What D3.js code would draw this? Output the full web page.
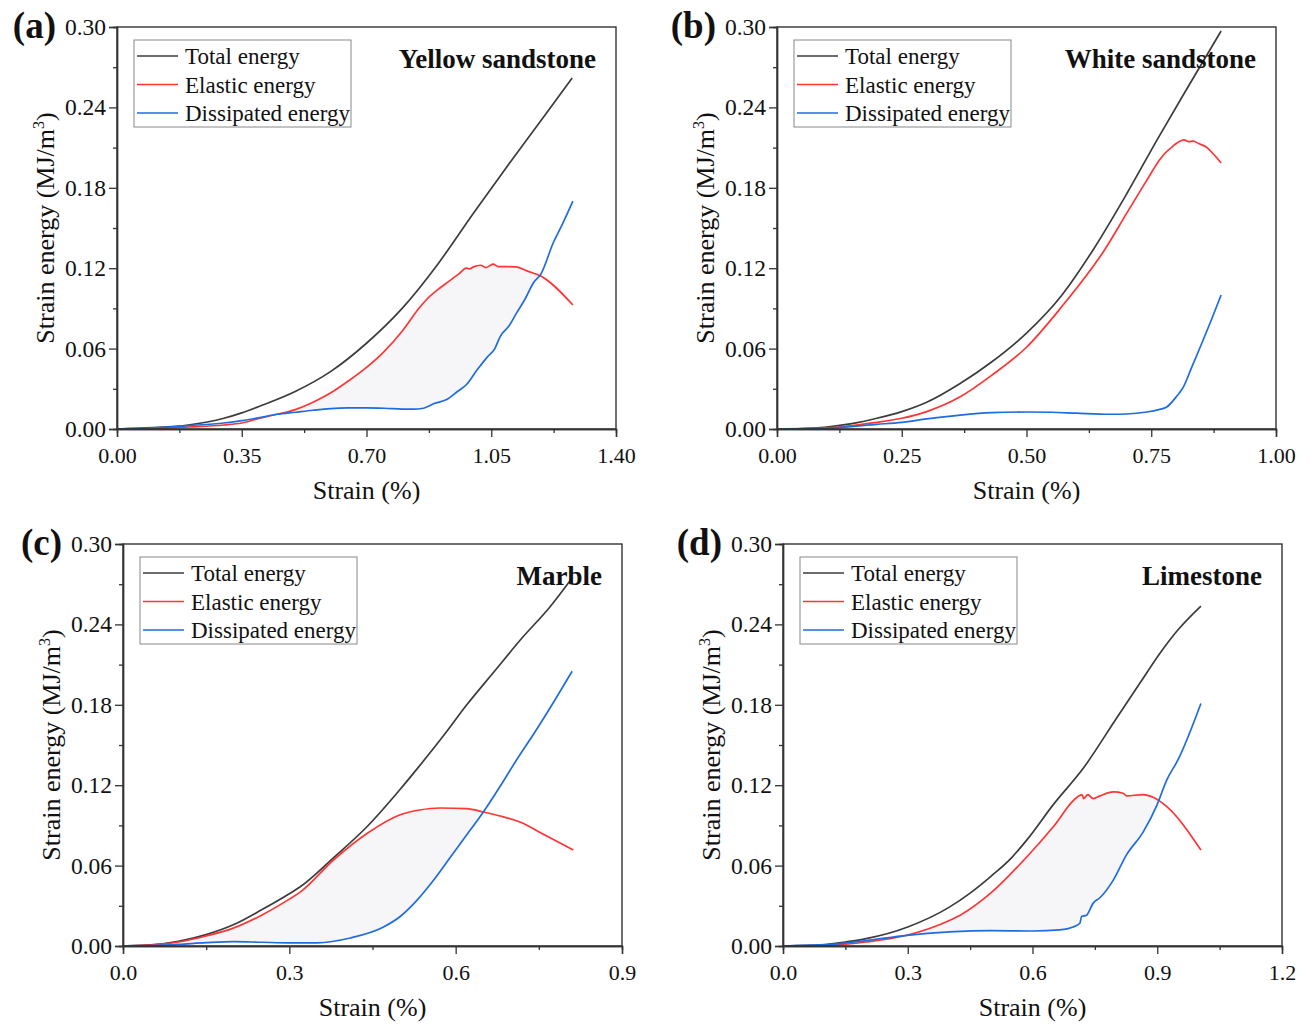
<!DOCTYPE html>
<html>
<head>
<meta charset="utf-8">
<script src="https://cdn.jsdelivr.net/npm/d3@7"></script>
<style>
  body { margin: 0; background: #fff; }
  svg { display: block; }
  text { font-family: "Liberation Serif", "Times New Roman", serif; fill: #111; }
</style>
</head>
<body>
<svg id="fig" width="1314" height="1025"></svg>
<script>
// Strain energy evolution under uniaxial compression: [strain (%), energy (MJ/m^3)]

// (a) Yellow sandstone
const yellowTotal = [[0,0],[0.1,0.001],[0.2,0.003],[0.3,0.008],[0.35,0.012],[0.4,0.017],[0.5,0.028],[0.6,0.043],[0.7,0.064],[0.8,0.09],[0.9,0.123],[1.0,0.161],[1.1,0.198],[1.2,0.234],[1.277,0.262]];
const yellowElastic = [[0,0],[0.1,0.0003],[0.2,0.0015],[0.3,0.003],[0.35,0.0045],[0.4,0.008],[0.45,0.011],[0.5,0.0145],[0.55,0.02],[0.6,0.027],[0.65,0.036],[0.7,0.046],[0.75,0.058],[0.8,0.073],[0.85,0.091],[0.87,0.097],[0.9,0.104],[0.93,0.110],[0.96,0.116],[0.98,0.120],[0.99,0.1195],[1.0,0.121],[1.02,0.1222],[1.035,0.1205],[1.055,0.123],[1.07,0.1212],[1.1,0.1212],[1.12,0.121],[1.15,0.118],[1.19,0.114],[1.279,0.0925]];
const yellowDissipated = [[0,0],[0.1,0.0008],[0.2,0.0025],[0.3,0.0045],[0.35,0.0062],[0.4,0.0085],[0.45,0.011],[0.5,0.0125],[0.55,0.014],[0.6,0.0152],[0.65,0.0157],[0.7,0.0158],[0.75,0.0155],[0.8,0.0149],[0.83,0.0148],[0.86,0.0155],[0.89,0.019],[0.925,0.022],[0.955,0.028],[0.98,0.033],[1.01,0.044],[1.04,0.054],[1.06,0.060],[1.075,0.069],[1.1,0.077],[1.122,0.087],[1.145,0.097],[1.168,0.109],[1.19,0.116],[1.224,0.139],[1.25,0.153],[1.279,0.170]];

// (b) White sandstone
const whiteTotal = [[0,0],[0.05,0.0003],[0.1,0.0015],[0.15,0.004],[0.2,0.008],[0.25,0.013],[0.3,0.02],[0.367,0.034],[0.43,0.05],[0.5,0.0716],[0.57,0.0995],[0.634,0.134],[0.7,0.175],[0.762,0.216],[0.82,0.253],[0.89,0.297]];
const whiteElastic = [[0,0],[0.1,0.0008],[0.2,0.005],[0.25,0.008],[0.3,0.013],[0.367,0.024],[0.43,0.04],[0.5,0.061],[0.57,0.091],[0.657,0.134],[0.7,0.1605],[0.74,0.185],[0.768,0.2015],[0.778,0.206],[0.79,0.210],[0.8,0.213],[0.816,0.2157],[0.825,0.2145],[0.834,0.2148],[0.845,0.213],[0.862,0.210],[0.875,0.205],[0.89,0.1985]];
const whiteDissipated = [[0,0],[0.1,0.0007],[0.2,0.0035],[0.25,0.005],[0.3,0.0075],[0.367,0.0104],[0.43,0.0122],[0.5,0.0127],[0.55,0.0125],[0.6,0.0118],[0.667,0.011],[0.7,0.0112],[0.741,0.0127],[0.765,0.0145],[0.781,0.0164],[0.8,0.024],[0.814,0.031],[0.83,0.045],[0.848,0.061],[0.87,0.081],[0.89,0.100]];

// (c) Marble
const marbleTotal = [[0,0],[0.05,0.0008],[0.1,0.0035],[0.15,0.0085],[0.2,0.016],[0.25,0.027],[0.3,0.039],[0.319,0.044],[0.38,0.066],[0.44,0.089],[0.5,0.117],[0.53,0.132],[0.58,0.158],[0.62,0.18],[0.67,0.205],[0.72,0.23],[0.77,0.253],[0.81,0.2746]];
const marbleElastic = [[0,0],[0.05,0.0007],[0.1,0.003],[0.15,0.0075],[0.2,0.0135],[0.25,0.023],[0.3,0.035],[0.319,0.040],[0.379,0.064],[0.44,0.084],[0.5,0.098],[0.535,0.1015],[0.572,0.103],[0.62,0.1025],[0.65,0.100],[0.68,0.097],[0.716,0.0925],[0.76,0.083],[0.812,0.0716]];
const marbleDissipated = [[0,0],[0.05,0.0003],[0.1,0.0012],[0.15,0.0025],[0.2,0.0033],[0.25,0.0028],[0.3,0.0023],[0.35,0.0024],[0.41,0.006],[0.469,0.014],[0.5,0.022],[0.53,0.034],[0.56,0.049],[0.59,0.066],[0.62,0.083],[0.65,0.100],[0.68,0.119],[0.71,0.139],[0.745,0.161],[0.779,0.1836],[0.81,0.205]];

// (d) Limestone
const limeTotal = [[0,0],[0.1,0.001],[0.15,0.003],[0.2,0.0055],[0.3,0.0142],[0.4,0.029],[0.45,0.0395],[0.5,0.052],[0.55,0.066],[0.586,0.079],[0.65,0.1055],[0.722,0.1326],[0.8,0.169],[0.86,0.197],[0.907,0.2187],[0.95,0.236],[1.005,0.2537]];
const limeElastic = [[0,0],[0.1,0.0003],[0.2,0.003],[0.298,0.008],[0.4,0.019],[0.426,0.023],[0.5,0.0396],[0.586,0.0664],[0.65,0.089],[0.707,0.111],[0.719,0.113],[0.723,0.110],[0.733,0.113],[0.746,0.110],[0.762,0.112],[0.794,0.115],[0.818,0.114],[0.826,0.112],[0.866,0.113],[0.89,0.111],[0.923,0.104],[1.005,0.0716]];
const limeDissipated = [[0,0],[0.1,0.0008],[0.2,0.004],[0.298,0.008],[0.4,0.0105],[0.5,0.0115],[0.6,0.0112],[0.666,0.012],[0.698,0.0142],[0.714,0.017],[0.718,0.022],[0.73,0.023],[0.746,0.032],[0.762,0.036],[0.794,0.049],[0.826,0.068],[0.866,0.085],[0.899,0.105],[0.923,0.124],[0.95,0.139],[1.005,0.181]];

// Axis ticks and labels
const energyTicks = [0, 0.06, 0.12, 0.18, 0.24, 0.30];
const yellowStrainTicks = [0, 0.35, 0.70, 1.05, 1.40];
const whiteStrainTicks = [0, 0.25, 0.50, 0.75, 1.00];
const marbleStrainTicks = [0, 0.3, 0.6, 0.9];
const limeStrainTicks = [0, 0.3, 0.6, 0.9, 1.2];
const seriesNames = ["Total energy", "Elastic energy", "Dissipated energy"];
const seriesColors = ["#3c3c3c", "#ff3434", "#1f6be2"];
const panelTags = ["(a)", "(b)", "(c)", "(d)"];
const rockNames = ["Yellow sandstone", "White sandstone", "Marble", "Limestone"];

// Panel placement
const frames = [
  {left: 117, top: 27, right: 616, bottom: 429},
  {left: 777, top: 27, right: 1276, bottom: 429},
  {left: 123, top: 544, right: 622, bottom: 946},
  {left: 783, top: 544, right: 1282, bottom: 946}
];

const panelData = [
  {ticks: yellowStrainTicks, fmt: ".2f", series: [yellowTotal, yellowElastic, yellowDissipated], shade: true},
  {ticks: whiteStrainTicks, fmt: ".2f", series: [whiteTotal, whiteElastic, whiteDissipated], shade: false},
  {ticks: marbleStrainTicks, fmt: ".1f", series: [marbleTotal, marbleElastic, marbleDissipated], shade: true},
  {ticks: limeStrainTicks, fmt: ".1f", series: [limeTotal, limeElastic, limeDissipated], shade: true}
];

const svg = d3.select("#fig");

function valueAt(series, x) {
  if (x <= series[0][0]) return series[0][1];
  for (let i = 1; i < series.length; i++) {
    if (x <= series[i][0]) {
      const [x0, y0] = series[i - 1], [x1, y1] = series[i];
      return y0 + (y1 - y0) * (x - x0) / (x1 - x0);
    }
  }
  return series[series.length - 1][1];
}

panelData.forEach((p, i) => {
  const f = frames[i];
  const xt = p.ticks;
  const x = d3.scaleLinear().domain([xt[0], xt[xt.length - 1]]).range([f.left, f.right]);
  const y = d3.scaleLinear().domain([0, 0.30]).range([f.bottom, f.top]);
  const g = svg.append("g");

  // shaded band where elastic energy exceeds dissipated energy
  if (p.shade) {
    const el = p.series[1], di = p.series[2];
    const xs = Array.from(new Set(el.map(d => d[0]).concat(di.map(d => d[0])))).sort((a, b) => a - b)
      .filter(v => v <= Math.min(el[el.length - 1][0], di[di.length - 1][0]));
    const band = xs.map(v => ({x: v, lo: valueAt(di, v), hi: valueAt(el, v)}));
    const area = d3.area().x(d => x(d.x)).y0(d => y(d.lo)).y1(d => y(Math.max(d.hi, d.lo)));
    g.append("path").datum(band).attr("d", area).attr("fill", "#f6f6f8");
  }

  // curves
  const line = d3.line().x(d => x(d[0])).y(d => y(d[1])).curve(d3.curveMonotoneX);
  p.series.forEach((s, k) => {
    g.append("path").datum(s).attr("d", line)
      .attr("fill", "none").attr("stroke", seriesColors[k]).attr("stroke-width", 1.7)
      .attr("stroke-linejoin", "round");
  });

  // frame
  g.append("rect").attr("x", f.left).attr("y", f.top)
    .attr("width", f.right - f.left).attr("height", f.bottom - f.top)
    .attr("fill", "none").attr("stroke", "#333").attr("stroke-width", 1.4);

  // y axis
  const yAxis = d3.axisLeft(y).tickValues(energyTicks).tickFormat(d3.format(".2f")).tickSize(8).tickPadding(3);
  const ya = g.append("g").attr("transform", `translate(${f.left},0)`).call(yAxis);
  ya.selectAll(".tick text").attr("font-size", 23.5);
  const yMinor = d3.axisLeft(y).tickValues(d3.range(0.03, 0.30, 0.06)).tickFormat("").tickSize(4);
  g.append("g").attr("transform", `translate(${f.left},0)`).call(yMinor);

  // x axis
  const xAxis = d3.axisBottom(x).tickValues(xt).tickFormat(d3.format(p.fmt)).tickSize(8).tickPadding(10);
  const xa = g.append("g").attr("transform", `translate(0,${f.bottom})`).call(xAxis);
  xa.selectAll(".tick text").attr("font-size", 22);
  const step = xt[1] - xt[0];
  const xMinor = d3.axisBottom(x).tickValues(xt.slice(0, -1).map(v => v + step / 2)).tickFormat("").tickSize(4);
  g.append("g").attr("transform", `translate(0,${f.bottom})`).call(xMinor);

  g.selectAll(".domain").attr("stroke", "#333").attr("stroke-width", 1.4);
  g.selectAll(".tick line").attr("stroke", "#333").attr("stroke-width", 1.3);
  g.selectAll(".tick text").attr("fill", "#111");

  // axis titles
  g.append("text").attr("x", (f.left + f.right) / 2).attr("y", f.bottom + 70)
    .attr("text-anchor", "middle").attr("font-size", 26).text("Strain (%)");
  const yt = g.append("text")
    .attr("transform", `translate(${f.left - 63},${(f.top + f.bottom) / 2}) rotate(-90)`)
    .attr("text-anchor", "middle").attr("font-size", 26);
  yt.append("tspan").text("Strain energy (MJ/m");
  yt.append("tspan").attr("font-size", 16).attr("dy", -10).text("3");
  yt.append("tspan").attr("dy", 10).text(")");

  // panel tag and rock name
  g.append("text").attr("x", f.left - 61).attr("y", f.top + 11).attr("text-anchor", "end")
    .attr("font-size", 37).attr("font-weight", "bold").text(panelTags[i]);
  g.append("text").attr("x", f.right - 20).attr("y", f.top + 41).attr("text-anchor", "end")
    .attr("font-size", 27).attr("font-weight", "bold").text(rockNames[i]);

  // legend
  const lx = f.left + 17, ly = f.top + 13;
  const lg = g.append("g");
  lg.append("rect").attr("x", lx).attr("y", ly).attr("width", 217).attr("height", 87)
    .attr("fill", "#fff").attr("stroke", "#888").attr("stroke-width", 1);
  seriesNames.forEach((name, k) => {
    const cy = ly + 16 + k * 28.5;
    lg.append("line").attr("x1", lx + 3).attr("x2", lx + 44).attr("y1", cy).attr("y2", cy)
      .attr("stroke", seriesColors[k]).attr("stroke-width", 1.7);
    lg.append("text").attr("x", lx + 51).attr("y", cy).attr("dy", "0.35em")
      .attr("font-size", 23).text(name);
  });
});
</script>
</body>
</html>
